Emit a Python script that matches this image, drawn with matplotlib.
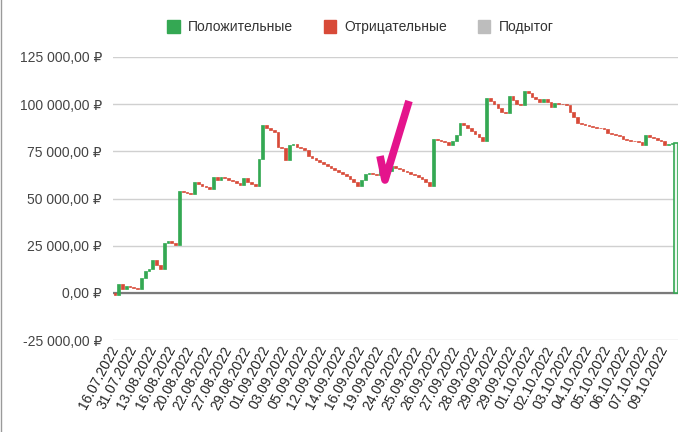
import numpy as np
import matplotlib
matplotlib.use("Agg")
import matplotlib.pyplot as plt
from matplotlib.patches import Patch
from matplotlib.lines import Line2D
from matplotlib.ticker import FuncFormatter

plt.rcParams['font.family'] = ['Liberation Sans', 'DejaVu Sans']

# баланс после каждой сделки (₽)
balance = [
    -1300, 4800, 2100, 3700, 3200, 2700, 2100, 8000, 11700, 12500,
    17500, 14800, 12700, 26500, 27600, 26500, 25200, 54100, 53500, 52700,
    52400, 58800, 57800, 56700, 55900, 54900, 61500, 59600, 61200, 60700,
    59900, 59100, 58300, 57200, 61000, 58800, 57800, 56700, 71000, 89000,
    87500, 86400, 85100, 77400, 76600, 70500, 78400, 79000, 77400, 76600,
    75800, 72600, 71600, 70500, 69400, 68400, 67300, 66300, 65200, 64100,
    62800, 61700, 60200, 58600, 56700, 59900, 63100, 63600, 63100, 62500,
    66000, 65200, 64700, 67000, 66300, 65500, 64700, 63900, 63100, 62300,
    61500, 60400, 58800, 56700, 81600, 81100, 80600, 80000, 78400, 80600,
    83700, 90100, 89000, 87500, 85900, 84300, 82400, 80600, 103400, 101800,
    100200, 98100, 95900, 95400, 104100, 102300, 100200, 99600, 107100, 106000,
    103900, 102800, 101200, 102800, 101200, 98300, 100700, 100200, 99900, 99400,
    95900, 93300, 90100, 89600, 89000, 88500, 88000, 87500, 87200, 86900,
    84800, 84300, 83700, 83200, 81600, 81100, 80600, 80300, 79800, 78400,
    83500, 82700, 81900, 81100, 80600, 78400, 78700, 79200,
]

# подписи оси X (каждая пятая сделка)
date_labels = [
    '16.07.2022', '31.07.2022', '13.08.2022', '16.08.2022', '20.08.2022',
    '22.08.2022', '27.08.2022', '29.08.2022', '01.09.2022', '03.09.2022',
    '05.09.2022', '12.09.2022', '14.09.2022', '16.09.2022', '19.09.2022',
    '24.09.2022', '25.09.2022', '26.09.2022', '27.09.2022', '28.09.2022',
    '29.09.2022', '29.09.2022', '01.10.2022', '02.10.2022', '03.10.2022',
    '04.10.2022', '05.10.2022', '06.10.2022', '07.10.2022', '09.10.2022',
]

legend_names = ['Положительные', 'Отрицательные', 'Подытог']
GREEN = '#34a853'
RED = '#d84a38'
GREY = '#bdbdbd'

bal = np.array(balance, dtype=float)
prev = np.concatenate([[0.0], bal[:-1]])
bottoms = np.minimum(prev, bal)
heights = np.abs(bal - prev)
colors = [GREEN if b >= p else RED for b, p in zip(bal, prev)]
x = np.arange(len(bal))
n_total = len(bal) + 1

fig = plt.figure(figsize=(7, 4.32), dpi=100)
ax = fig.add_axes([113 / 700, 1 - 340 / 432, 565 / 700, 283 / 432])

ax.set_ylim(-25000, 125000)
ax.set_xlim(-0.5, n_total - 0.5)
ax.set_yticks(np.arange(-25000, 125001, 25000))
ax.grid(axis='y', color='#d0d0d0', lw=1)
ax.set_axisbelow(True)
ax.axhline(0, color='#7a7a7a', lw=1.6, zorder=1)

ax.bar(x, heights, bottom=bottoms, width=0.72, color=colors,
       edgecolor=colors, linewidth=0.5, zorder=3)
# итоговый столбец
ax.bar(len(bal), bal[-1], width=1.0, color='#eef7f0', edgecolor=GREEN,
       linewidth=1.2, zorder=3)

for s in ax.spines.values():
    s.set_visible(False)

ax.yaxis.set_major_formatter(FuncFormatter(
    lambda v, pos: f"{v:,.2f}".replace(',', ' ').replace('.', ',') + ' ₽'))
ax.tick_params(axis='y', length=0, pad=8, labelsize=10, labelcolor='#444444')

ax.set_xticks(np.arange(0, len(date_labels) * 5, 5))
ax.set_xticklabels(date_labels, rotation=62, ha='right', va='center',
                   rotation_mode='anchor')
ax.tick_params(axis='x', length=0, pad=5, labelsize=10, labelcolor='#222222')

handles = [Patch(color=c) for c in (GREEN, RED, GREY)]
fig.legend(handles, legend_names, loc='center', bbox_to_anchor=(0.515, 1 - 27 / 432),
           ncol=3, frameon=False, fontsize=10, handlelength=0.9, handleheight=1.1,
           handletextpad=0.6, columnspacing=2.2, labelcolor='#333333')

# розовая галочка поверх графика
chk_x = np.array([380, 385, 409]) / 700
chk_y = 1 - np.array([156, 180, 101]) / 432
fig.add_artist(Line2D(chk_x, chk_y, color='#e4148c', lw=5.5,
                      solid_capstyle='butt', solid_joinstyle='round', zorder=10))

# рамка слева
fig.add_artist(Line2D([0.001, 0.001], [0, 1], color='#9a9a9a', lw=1))

fig.savefig('out.png', dpi=100)
